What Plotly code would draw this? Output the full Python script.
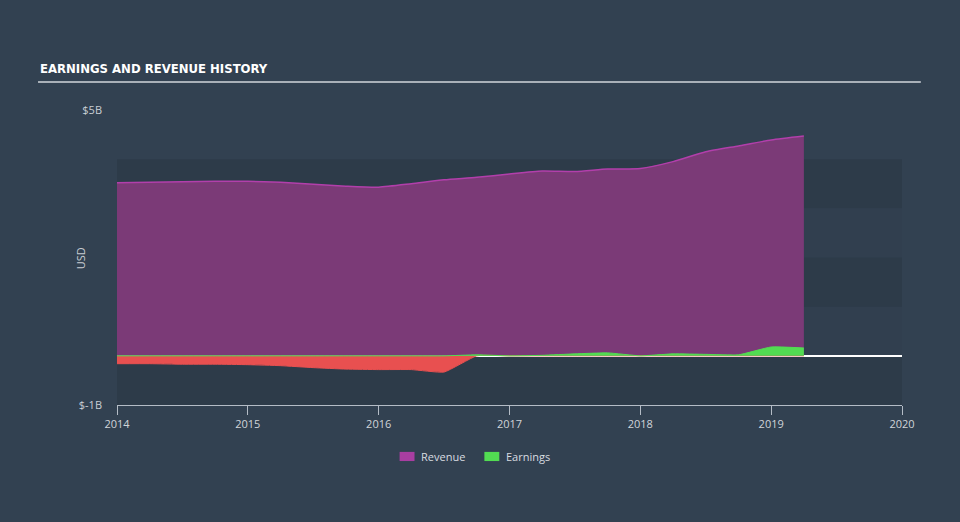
import plotly.graph_objects as go
import numpy as np

quarters = [2014.0, 2014.25, 2014.5, 2014.75, 2015.0, 2015.25, 2015.5, 2015.75,
            2016.0, 2016.25, 2016.5, 2016.75, 2017.0, 2017.25, 2017.5, 2017.75,
            2018.0, 2018.25, 2018.5, 2018.75, 2019.0, 2019.25]
revenue = [3.52, 3.53, 3.54, 3.55, 3.55, 3.53, 3.49, 3.45,
           3.43, 3.50, 3.58, 3.63, 3.70, 3.76, 3.75, 3.80,
           3.81, 3.95, 4.15, 4.27, 4.39, 4.47]
earnings = [-0.16, -0.16, -0.17, -0.17, -0.18, -0.20, -0.24, -0.27,
            -0.28, -0.28, -0.33, 0.02, 0.00, 0.01, 0.04, 0.06,
            0.00, 0.04, 0.03, 0.02, 0.18, 0.16]
x_ticks = [2014, 2015, 2016, 2017, 2018, 2019, 2020]
y_tickvals = [-1, 5]
y_ticktext = ["$-1B", "$5B"]

BG = "#324151"
REV_LINE = "#b23fab"
REV_FILL = "#7b3a77"
RED = "#e85050"
GREEN = "#52dc52"

e = np.array(earnings)
neg = np.minimum(e, 0)
pos = np.maximum(e, 0)

fig = go.Figure()
fig.add_trace(go.Scatter(x=quarters, y=revenue, mode="lines", fill="tozeroy",
                         line=dict(color=REV_LINE, width=1.5, shape="spline", smoothing=0.6),
                         fillcolor=REV_FILL, showlegend=False, hoverinfo="skip"))
fig.add_trace(go.Scatter(x=quarters, y=neg, mode="lines", fill="tozeroy",
                         line=dict(color=RED, width=1, shape="spline", smoothing=0.4),
                         fillcolor=RED, showlegend=False, hoverinfo="skip"))
fig.add_trace(go.Scatter(x=quarters, y=pos, mode="lines", fill="tozeroy",
                         line=dict(color=GREEN, width=1, shape="spline", smoothing=0.4),
                         fillcolor=GREEN, showlegend=False, hoverinfo="skip"))

shapes = []
# horizontal bands
for lo, hi, op in [(-1, 0, 0.09), (0, 1, 0.02), (1, 2, 0.09), (2, 3, 0.02), (3, 4, 0.09)]:
    shapes.append(dict(type="rect", xref="x", yref="y", x0=2014, x1=2020, y0=lo, y1=hi,
                       fillcolor=f"rgba(0,0,0,{op})", line=dict(width=0), layer="below"))
# title underline
shapes.append(dict(type="line", xref="paper", yref="paper", x0=-0.1006, x1=1.024,
                   y0=1.095, y1=1.095, line=dict(color="#a9b0b8", width=2)))
# legend swatches
shapes.append(dict(type="rect", xref="paper", yref="paper", x0=0.360, x1=0.379,
                   y0=-0.190, y1=-0.159, fillcolor="#a83ea1", line=dict(width=0)))
shapes.append(dict(type="rect", xref="paper", yref="paper", x0=0.468, x1=0.487,
                   y0=-0.190, y1=-0.159, fillcolor=GREEN, line=dict(width=0)))

annotations = [
    dict(text="<b>EARNINGS AND REVENUE HISTORY</b>", xref="paper", yref="paper",
         x=-0.1006, y=1.142, xanchor="left", yanchor="middle", showarrow=False,
         font=dict(family="DejaVu Sans Condensed", size=13, color="#ffffff")),
    dict(text="Revenue", xref="paper", yref="paper", x=0.385, y=-0.174,
         xanchor="left", yanchor="middle", showarrow=False,
         font=dict(family="Open Sans", size=11, color="#d8dce0")),
    dict(text="Earnings", xref="paper", yref="paper", x=0.493, y=-0.174,
         xanchor="left", yanchor="middle", showarrow=False,
         font=dict(family="Open Sans", size=11, color="#d8dce0")),
    dict(text="USD", xref="paper", yref="paper", x=-0.047, y=0.498, textangle=-90,
         xanchor="center", yanchor="middle", showarrow=False,
         font=dict(family="Open Sans", size=11, color="#c9ced4")),
]

fig.update_layout(
    width=960, height=522,
    margin=dict(l=117, r=58, t=110, b=117),
    paper_bgcolor=BG, plot_bgcolor=BG,
    shapes=shapes, annotations=annotations,
    font=dict(family="Open Sans", color="#c9ced4", size=11),
    xaxis=dict(range=[2014, 2020], tickvals=x_ticks, ticks="outside", ticklen=9,
               tickcolor="#b4bcc6", showline=True, linecolor="#b4bcc6", linewidth=1,
               showgrid=False, zeroline=False, tickfont=dict(size=11, color="#d0d4d9")),
    yaxis=dict(range=[-1, 5], tickvals=y_tickvals, ticktext=y_ticktext, showgrid=False,
               zeroline=True, zerolinecolor="#ffffff", zerolinewidth=1.5,
               ticklabelstandoff=14, tickfont=dict(size=11, color="#c9ced4")),
)

fig.write_html("out.html")
